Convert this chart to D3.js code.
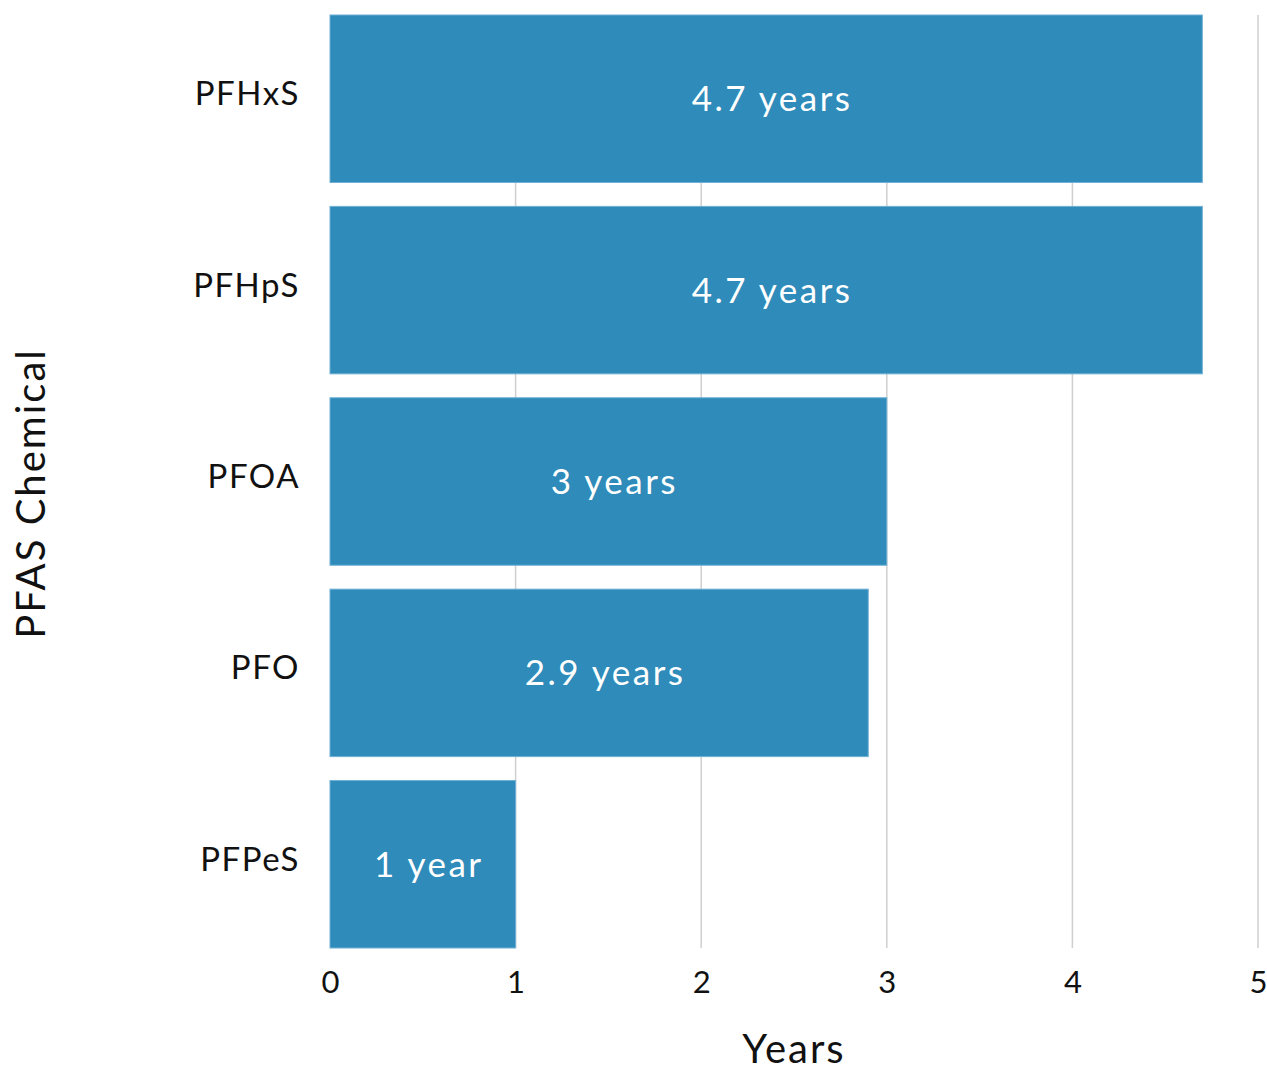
<!DOCTYPE html>
<html>
<head>
<meta charset="utf-8">
<script src="https://cdn.jsdelivr.net/npm/d3@7"></script>
<style>
  html, body { margin: 0; padding: 0; background: #fff; }
  svg text { font-family: "Lato", "Open Sans", sans-serif; }
</style>
</head>
<body>
<svg id="chart" width="1267" height="1072"></svg>
<script>
// Half-life of PFAS chemicals in the human body
const chemicals = ["PFHxS", "PFHpS", "PFOA", "PFO", "PFPeS"];
const halfLifeYears = [4.7, 4.7, 3, 2.9, 1];
const valueLabels = ["4.7 years", "4.7 years", "3 years", "2.9 years", "1 year"];
const xTicks = [0, 1, 2, 3, 4, 5];

const svg = d3.select("#chart");
const margin = { top: 15, right: 9, bottom: 124, left: 330 };
const width = 1267 - margin.left - margin.right;
const height = 1072 - margin.top - margin.bottom;

const g = svg.append("g").attr("transform", `translate(${margin.left},${margin.top})`);

const x = d3.scaleLinear().domain([0, 5]).range([0, width]);
const y = d3.scaleBand().domain(chemicals).range([0, height]).paddingInner(0.125).paddingOuter(0);

// vertical gridlines
g.append("g")
  .selectAll("line")
  .data(xTicks.filter(t => t > 0))
  .join("line")
  .attr("x1", d => x(d)).attr("x2", d => x(d))
  .attr("y1", 0).attr("y2", height)
  .attr("stroke", "#cfcfcf")
  .attr("stroke-width", 1.5);

const rows = chemicals.map((c, i) => ({ name: c, value: halfLifeYears[i], label: valueLabels[i] }));

g.append("g")
  .selectAll("rect")
  .data(rows)
  .join("rect")
  .attr("x", x(0))
  .attr("y", d => y(d.name))
  .attr("width", d => x(d.value) - x(0))
  .attr("height", y.bandwidth())
  .attr("fill", "#2e8bba")
  .attr("stroke", "#6fb0d4")
  .attr("stroke-width", 1);

g.append("g")
  .selectAll("text")
  .data(rows)
  .join("text")
  .attr("x", d => x(d.value / 2) + 6)
  .attr("y", d => y(d.name) + y.bandwidth() / 2)
  .attr("dy", "0.36em")
  .attr("text-anchor", "middle")
  .attr("fill", "#fff")
  .attr("font-size", 35)
  .attr("letter-spacing", 2.5)
  .text(d => d.label);

// x axis tick labels
const xAxis = d3.axisBottom(x).tickValues(xTicks).tickSize(0).tickPadding(23).tickFormat(d3.format("d"));
const xa = g.append("g").attr("transform", `translate(0,${height})`).call(xAxis);
xa.select(".domain").remove();
xa.selectAll("text").attr("font-size", 31).attr("fill", "#111").attr("font-family", "Lato");

// y axis category labels
const yAxis = d3.axisLeft(y).tickSize(0).tickPadding(30);
const ya = g.append("g").call(yAxis);
ya.select(".domain").remove();
ya.selectAll("text").attr("font-size", 33).attr("fill", "#111").attr("letter-spacing", 1.5).attr("font-family", "Lato").attr("dy", "0.2em");

// axis titles
svg.append("text")
  .attr("x", margin.left + x(2.5))
  .attr("y", 1063)
  .attr("text-anchor", "middle")
  .attr("font-size", 40)
  .attr("letter-spacing", 2)
  .attr("fill", "#111")
  .text("Years");

svg.append("text")
  .attr("transform", `translate(45,${margin.top + height / 2 + 12}) rotate(-90)`)
  .attr("text-anchor", "middle")
  .attr("font-size", 40)
  .attr("letter-spacing", 2)
  .attr("fill", "#111")
  .text("PFAS Chemical");
</script>
</body>
</html>
